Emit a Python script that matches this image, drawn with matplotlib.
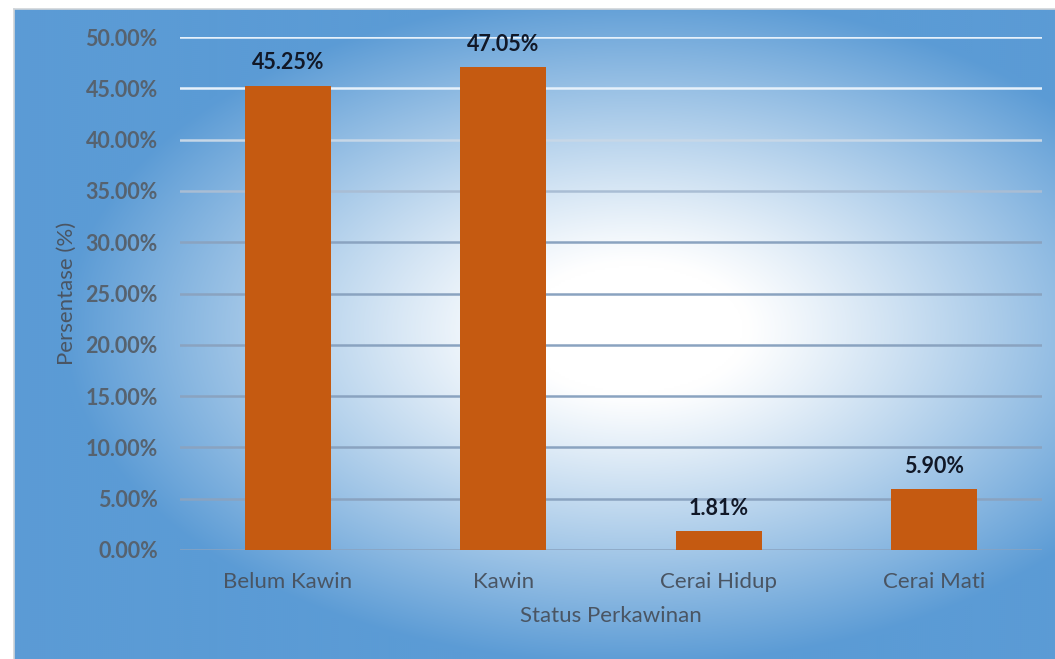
import numpy as np
import matplotlib.pyplot as plt
from matplotlib.colors import to_rgb

# data
categories = ['Belum Kawin', 'Kawin', 'Cerai Hidup', 'Cerai Mati']
values = [45.25, 47.05, 1.81, 5.90]
y_ticks = [0, 5, 10, 15, 20, 25, 30, 35, 40, 45, 50]

plt.rcParams['font.family'] = ['Lato', 'DejaVu Sans']

W, H = 1055, 659
fig = plt.figure(figsize=(W / 100, H / 100), dpi=100)
fig.patch.set_facecolor('white')

# radial gradient background of the chart area
bg = fig.add_axes([14 / W, 0, 1 - 14 / W, (H - 9) / H])
bg.set_axis_off()
gw, gh = 520, 325
xx, yy = np.meshgrid(np.linspace(0, 1041, gw), np.linspace(0, 650, gh))
d = np.sqrt(((xx - 620) / 560) ** 2 + ((yy - 320) / 330) ** 2)
t = np.clip((d - 0.2) / 0.82, 0, 1) ** 1.1
blue = np.array(to_rgb('#5b9bd5'))
img = (1 - t)[..., None] * np.ones(3) + t[..., None] * blue
bg.imshow(img, extent=[0, 1, 0, 1], aspect='auto', interpolation='bicubic')
bg.set_xlim(0, 1)
bg.set_ylim(0, 1)
fig.add_artist(plt.Line2D([14 / W, 14 / W], [0, (H - 9) / H], color='#d0d4d8', lw=1.2))
fig.add_artist(plt.Line2D([14 / W, 1], [(H - 9) / H, (H - 9) / H], color='#d0d4d8', lw=1.2))

ax = fig.add_axes([180 / W, 109 / H, (1042 - 180) / W, (550 - 37) / H])
ax.patch.set_alpha(0)
for s in ax.spines.values():
    s.set_visible(False)

# gridlines: light at top, grey-blue lower down
light = np.array(to_rgb('#e6f1fb'))
dark = np.array(to_rgb('#8aa3c0'))
for v in y_ticks:
    f = np.clip((v - 30) / 15, 0, 1)
    ax.axhline(v, color=f * light + (1 - f) * dark, lw=1.8, zorder=1)

x = np.arange(len(categories))
bars = ax.bar(x, values, width=0.4, color='#c55a11', zorder=3)
for b, v in zip(bars, values):
    ax.text(b.get_x() + b.get_width() / 2, v + 1.2, f'{v:.2f}%', ha='center', va='bottom',
            fontsize=15.5, fontweight='bold', color='#111827')

ax.set_xlim(-0.5, 3.5)
ax.set_ylim(0, 50)
ax.set_yticks(y_ticks)
ax.set_yticklabels([f'{v:.2f}%' for v in y_ticks], fontsize=15.5, fontweight='bold', color='#56626f')
ax.set_xticks(x)
ax.set_xticklabels(categories, fontsize=16, color='#4a5563')
ax.tick_params(axis='both', length=0)
ax.tick_params(axis='y', pad=16)
ax.tick_params(axis='x', pad=16)
ax.set_xlabel('Status Perkawinan', fontsize=16, color='#4a5563', labelpad=10)
ax.set_ylabel('Persentase (%)', fontsize=16, color='#4a5563', labelpad=6)

fig.savefig('out.png', dpi=100)
